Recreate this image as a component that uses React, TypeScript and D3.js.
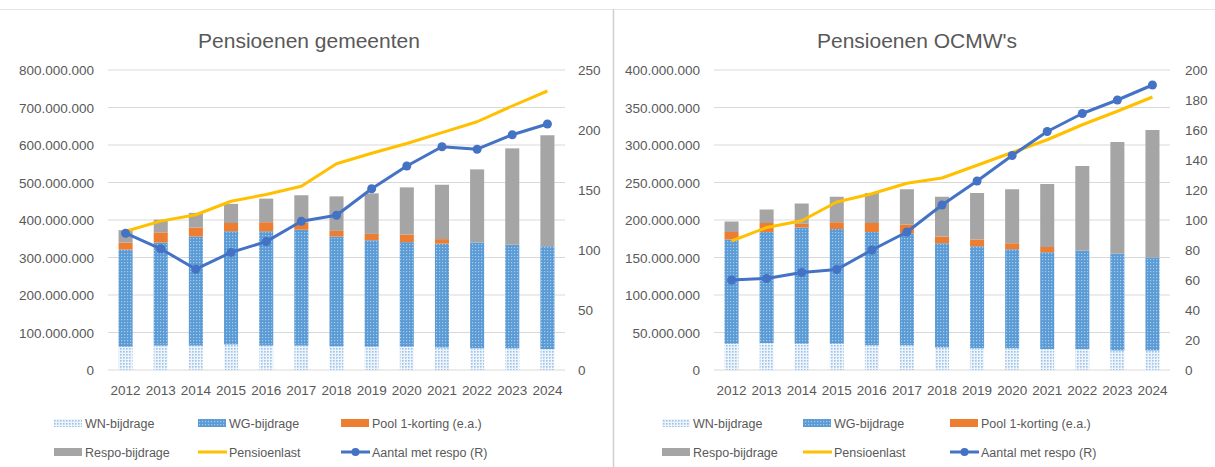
import React from "react";
import * as d3 from "d3";

const years = ["2012","2013","2014","2015","2016","2017","2018","2019","2020","2021","2022","2023","2024"];

// Pensioenen gemeenten (EUR, in millions)
const gemWN = [62,65,65,68,65,65,63,62,62,60,58,58,56];
const gemWG = [259,275,291,302,305,309,293,284,279,277,282,276,274];
const gemPool = [19,27,24,22,24,19,15,17,20,12,0,0,0];
const gemRespo = [33,34,39,51,63,73,92,108,126,145,195,257,296];
const gemLast = [370,397,414,450,468,490,550,578,604,633,662,704,744];
const gemAantal = [114,101,84,98,107,124,129,151,170,186,184,196,205];
const gemLeftTicks = [0,100,200,300,400,500,600,700,800];
const gemRightTicks = [0,50,100,150,200,250];

// Pensioenen OCMW's (EUR, in millions)
const ocWN = [35,36,35,35,33,33,30,29,29,28,28,26,26];
const ocWG = [139,148,155,153,151,149,139,136,132,129,131,129,124];
const ocPool = [10,12,5,9,12,12,9,9,8,7,0,0,0];
const ocRespo = [14,18,27,34,40,47,53,62,72,84,113,149,170];
const ocLast = [172,190,199,224,235,249,256,273,290,307,327,345,364];
const ocAantal = [60,61,65,67,80,92,110,126,143,159,171,180,190];
const ocLeftTicks = [0,50,100,150,200,250,300,350,400];
const ocRightTicks = [0,20,40,60,80,100,120,140,160,180,200];

const seriesNames = ["WN-bijdrage","WG-bijdrage","Pool 1-korting (e.a.)","Respo-bijdrage","Pensioenlast","Aantal met respo (R)"];

const FONT = "'Liberation Sans', Arial, sans-serif";
const TXT = "#595959";
const ORANGE = "#ED7D31";
const GRAY = "#A5A5A5";
const YELLOW = "#FFC000";
const BLUE = "#4472C4";
const GRID = "#D9D9D9";

const fmt = (m: number) => {
  if (m === 0) return "0";
  const v = m * 1e6;
  return d3.format(",")(v).replace(/,/g, ".");
};

type ChartProps = {
  id: string;
  title: string;
  titleX: number;
  x0: number; x1: number;
  leftMax: number; rightMax: number;
  leftTicks: number[]; rightTicks: number[];
  wn: number[]; wg: number[]; pool: number[]; respo: number[];
  last: number[]; aantal: number[];
  leftLabelX: number; rightLabelX: number;
  legendX: number[];
};

function Chart(p: ChartProps) {
  const top = 70, bottom = 370;
  const x = d3.scaleBand<string>().domain(years).range([p.x0, p.x1]).paddingInner(0.6).paddingOuter(0.3);
  const yL = d3.scaleLinear().domain([0, p.leftMax]).range([bottom, top]);
  const yR = d3.scaleLinear().domain([0, p.rightMax]).range([bottom, top]);
  const rows = years.map((yr, i) => ({ yr, wn: p.wn[i], wg: p.wg[i], pool: p.pool[i], respo: p.respo[i] }));
  const keys = ["wn", "wg", "pool", "respo"];
  const stack = d3.stack<any>().keys(keys)(rows);
  const fills: Record<string, string> = {
    wn: `url(#wn-${p.id})`, wg: `url(#wg-${p.id})`, pool: ORANGE, respo: GRAY,
  };
  const cx = (yr: string) => (x(yr) as number) + x.bandwidth() / 2;
  const lastLine = d3.line<number>().x((_, i) => cx(years[i])).y(d => yL(d));
  const aantalLine = d3.line<number>().x((_, i) => cx(years[i])).y(d => yR(d));
  const lx = p.legendX;
  const r1 = 423, r2 = 452;
  return (
    <g>
      <defs>
        <pattern id={`wn-${p.id}`} width="3" height="3" patternUnits="userSpaceOnUse">
          <rect width="3" height="3" fill="#EEF4FB" />
          <rect x="0" y="0" width="1.6" height="1.6" fill="#9DC3E6" />
        </pattern>
        <pattern id={`wg-${p.id}`} width="3" height="3" patternUnits="userSpaceOnUse">
          <rect width="3" height="3" fill="#5B9BD5" />
          <rect x="1" y="1" width="1.2" height="1.2" fill="#A9CBEB" />
        </pattern>
      </defs>
      <text x={p.titleX} y={48} textAnchor="middle" fontFamily={FONT} fontSize={21} fill={TXT}>{p.title}</text>
      {p.leftTicks.map(t => (
        <line key={"g" + t} x1={p.x0} x2={p.x1} y1={yL(t)} y2={yL(t)} stroke={GRID} strokeWidth={1} />
      ))}
      {p.leftTicks.map(t => (
        <text key={"l" + t} x={p.leftLabelX} y={yL(t) + 5} textAnchor="end" fontFamily={FONT} fontSize={13.5} fill={TXT}>{fmt(t)}</text>
      ))}
      {p.rightTicks.map(t => (
        <text key={"r" + t} x={p.rightLabelX} y={yR(t) + 5} textAnchor="start" fontFamily={FONT} fontSize={13.5} fill={TXT}>{t}</text>
      ))}
      {years.map(yr => (
        <text key={"x" + yr} x={cx(yr)} y={395} textAnchor="middle" fontFamily={FONT} fontSize={13.5} fill={TXT}>{yr}</text>
      ))}
      {stack.map(s => (
        <g key={s.key}>
          {s.map((d: any, i: number) => (
            d[1] - d[0] > 0 ? (
              <rect key={i} x={x(years[i])} width={x.bandwidth()} y={yL(d[1])} height={yL(d[0]) - yL(d[1])} fill={fills[s.key]} />
            ) : null
          ))}
        </g>
      ))}
      <path d={lastLine(p.last) || ""} fill="none" stroke={YELLOW} strokeWidth={3} strokeLinejoin="round" />
      <path d={aantalLine(p.aantal) || ""} fill="none" stroke={BLUE} strokeWidth={3} strokeLinejoin="round" />
      {p.aantal.map((v, i) => (
        <circle key={i} cx={cx(years[i])} cy={yR(v)} r={4.5} fill={BLUE} />
      ))}
      {/* legend */}
      <g fontFamily={FONT} fontSize={12.5} fill={TXT}>
        <rect x={lx[0]} y={r1 - 4} width={28} height={8} fill={`url(#wn-${p.id})`} />
        <text x={lx[0] + 31} y={r1 + 4.5}>{seriesNames[0]}</text>
        <rect x={lx[1]} y={r1 - 4} width={28} height={8} fill={`url(#wg-${p.id})`} />
        <text x={lx[1] + 31} y={r1 + 4.5}>{seriesNames[1]}</text>
        <rect x={lx[2]} y={r1 - 4} width={28} height={8} fill={ORANGE} />
        <text x={lx[2] + 31} y={r1 + 4.5}>{seriesNames[2]}</text>
        <rect x={lx[0]} y={r2 - 4} width={28} height={8} fill={GRAY} />
        <text x={lx[0] + 31} y={r2 + 4.5}>{seriesNames[3]}</text>
        <line x1={lx[1]} x2={lx[1] + 29} y1={r2} y2={r2} stroke={YELLOW} strokeWidth={3} />
        <text x={lx[1] + 31} y={r2 + 4.5}>{seriesNames[4]}</text>
        <line x1={lx[2]} x2={lx[2] + 29} y1={r2} y2={r2} stroke={BLUE} strokeWidth={3} />
        <circle cx={lx[2] + 14.5} cy={r2} r={4} fill={BLUE} />
        <text x={lx[2] + 31} y={r2 + 4.5}>{seriesNames[5]}</text>
      </g>
    </g>
  );
}

export default function App() {
  return (
    <div style={{ position: "absolute", left: 0, top: 0 }}>
      <svg width={1215} height={467} style={{ display: "block", background: "#fff" }}>
        <line x1={0} x2={1215} y1={9.5} y2={9.5} stroke="#E6E6E6" strokeWidth={1} />
        <line x1={613.5} x2={613.5} y1={9} y2={467} stroke="#D0D0D0" strokeWidth={1.5} />
        <Chart id="gem" title="Pensioenen gemeenten" titleX={309}
          x0={108} x1={565} leftMax={800} rightMax={250}
          leftTicks={gemLeftTicks} rightTicks={gemRightTicks}
          wn={gemWN} wg={gemWG} pool={gemPool} respo={gemRespo}
          last={gemLast} aantal={gemAantal}
          leftLabelX={94} rightLabelX={578} legendX={[54, 198, 341]} />
        <Chart id="oc" title="Pensioenen OCMW's" titleX={917}
          x0={714} x1={1170} leftMax={400} rightMax={200}
          leftTicks={ocLeftTicks} rightTicks={ocRightTicks}
          wn={ocWN} wg={ocWG} pool={ocPool} respo={ocRespo}
          last={ocLast} aantal={ocAantal}
          leftLabelX={700} rightLabelX={1185} legendX={[662, 803, 950]} />
      </svg>
    </div>
  );
}
